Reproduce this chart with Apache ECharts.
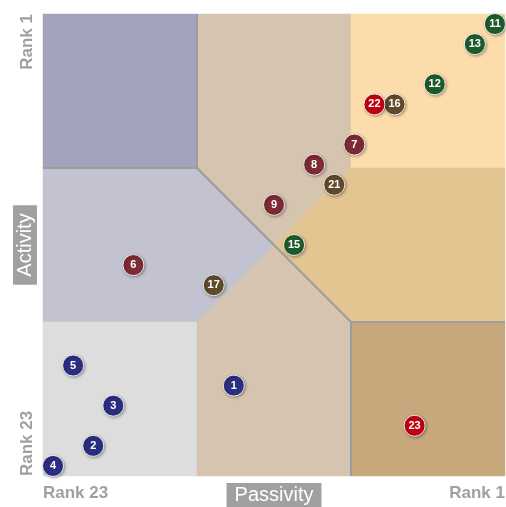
<!DOCTYPE html>
<html>
<head>
<meta charset="utf-8">
<script src="https://cdn.jsdelivr.net/npm/echarts/dist/echarts.min.js"></script>
<style>
html,body{margin:0;padding:0;background:#fff;}
#chart{width:506px;height:507px;}
</style>
</head>
<body>
<div id="chart"></div>
<script>
// ---- data ----
var ids        = [1, 2, 3, 4, 5, 6, 7, 8, 9, 11, 12, 13, 15, 16, 17, 21, 22, 23];
var passivity  = [14,21,20,23,22,19, 8,10,12,  1,  4,  2, 11,  6, 15,  9,  7,  5];
var activity   = [19,22,20,23,18,13, 7, 8,10,  1,  4,  2, 12,  5, 14,  9,  5, 21];
var groups     = ['blue','blue','blue','blue','blue','darkred','darkred','darkred','darkred',
                  'green','green','green','green','brown','brown','brown','red','red'];
var groupNames = ['blue','darkred','green','brown','red'];
var xTickLabels = ['Rank 1', 'Rank 23'];
var yTickLabels = ['Rank 1', 'Rank 23'];
var rankMin = 0.5, rankMax = 23.5;

// ---- styles ----
var groupColors = {blue:'#2a2e7e', darkred:'#7c2a33', green:'#1e5a2c', brown:'#5f4b2b', red:'#c00010'};
var regions = [
  {pts:[[0,2/3],[1/3,2/3],[1/3,1],[0,1]], color:'#a3a3be'},
  {pts:[[1/3,1],[2/3,1],[2/3,2/3],[1/2,1/2],[1/3,2/3]], color:'#d5c4af'},
  {pts:[[2/3,1],[1,1],[1,2/3],[2/3,2/3]], color:'#fddcab'},
  {pts:[[0,1/3],[1/3,1/3],[1/2,1/2],[1/3,2/3],[0,2/3]], color:'#c2c2d0'},
  {pts:[[2/3,2/3],[1,2/3],[1,1/3],[2/3,1/3],[1/2,1/2]], color:'#e3c592'},
  {pts:[[0,0],[1/3,0],[1/3,1/3],[0,1/3]], color:'#dddddd'},
  {pts:[[1/3,0],[2/3,0],[2/3,1/3],[1/2,1/2],[1/3,1/3]], color:'#d5c4af'},
  {pts:[[2/3,0],[1,0],[1,1/3],[2/3,1/3]], color:'#c7a87d'}
];
var borderLines = [
  [[1/3,1],[1/3,2/3],[0,2/3]],
  [[1/3,2/3],[2/3,1/3]],
  [[2/3,0],[2/3,1/3],[1,1/3]]
];

function fracToRank(f){ return rankMax - (rankMax - rankMin) * f; }

var chart = echarts.init(document.getElementById('chart'), null, {renderer:'canvas'});

var series = [{
  type:'custom',
  silent:true,
  z:1,
  data:[0],
  renderItem:function(params, api){
    var children = [];
    function pt(p){ return api.coord([fracToRank(p[0]), fracToRank(p[1])]); }
    regions.forEach(function(r){
      children.push({type:'polygon', shape:{points:r.pts.map(pt)}, style:{fill:r.color, stroke:r.color, lineWidth:0.5}});
    });
    borderLines.forEach(function(l){
      children.push({type:'polyline', shape:{points:l.map(pt)}, style:{stroke:'#9c9c9c', lineWidth:2, fill:null}});
    });
    return {type:'group', children:children};
  }
}];

groupNames.forEach(function(g){
  var d = [];
  for (var i = 0; i < ids.length; i++) {
    if (groups[i] === g) d.push([passivity[i], activity[i], ids[i]]);
  }
  series.push({
    type:'scatter',
    z:3,
    symbolSize:21,
    data:d,
    itemStyle:{color:groupColors[g], borderColor:'rgba(255,255,255,0.85)', borderWidth:1,
      shadowBlur:3, shadowColor:'rgba(0,0,0,0.35)', shadowOffsetX:1, shadowOffsetY:1, opacity:1},
    label:{show:true, position:'inside', formatter:function(p){return p.value[2];},
      color:'#fff', fontSize:11, fontWeight:'bold', fontFamily:'Liberation Sans, Arial, sans-serif'},
    emphasis:{disabled:true}
  });
});

chart.setOption({
  animation:false,
  grid:{left:43, right:1, top:14, bottom:31, containLabel:false, outerBoundsMode:'none'},
  xAxis:{
    type:'value', min:rankMin, max:rankMax, inverse:true,
    splitLine:{show:false}, axisLine:{show:false}, axisTick:{show:false},
    axisLabel:{
      customValues:[rankMin, rankMax],
      formatter:function(v){ return v < 12 ? xTickLabels[0] : xTickLabels[1]; },
      color:'#a0a0a0', fontSize:17, fontWeight:'bold', fontFamily:'Liberation Sans, Arial, sans-serif',
      margin:9, alignMinLabel:'right', alignMaxLabel:'left'
    },
    name:'Passivity', nameLocation:'middle', nameGap:7, nameMoveOverlap:false,
    nameTextStyle:{color:'#fff', backgroundColor:'#a0a0a0', padding:[2,8,2,8], fontSize:20,
      fontFamily:'Liberation Sans, Arial, sans-serif', verticalAlign:'top'}
  },
  yAxis:{
    type:'value', min:rankMin, max:rankMax, inverse:true,
    splitLine:{show:false}, axisLine:{show:false}, axisTick:{show:false},
    axisLabel:{
      customValues:[rankMin, rankMax],
      formatter:function(v){ return v < 12 ? yTickLabels[0] : yTickLabels[1]; },
      rotate:90,
      color:'#a0a0a0', fontSize:17, fontWeight:'bold', fontFamily:'Liberation Sans, Arial, sans-serif',
      margin:7, alignMinLabel:'right', alignMaxLabel:'left'
    },
    name:'Activity', nameLocation:'middle', nameGap:6, nameRotate:90, nameMoveOverlap:false,
    nameTextStyle:{color:'#fff', backgroundColor:'#a0a0a0', padding:[2,8,2,8], fontSize:20,
      fontFamily:'Liberation Sans, Arial, sans-serif'}
  },
  series:series
});
</script>
</body>
</html>
